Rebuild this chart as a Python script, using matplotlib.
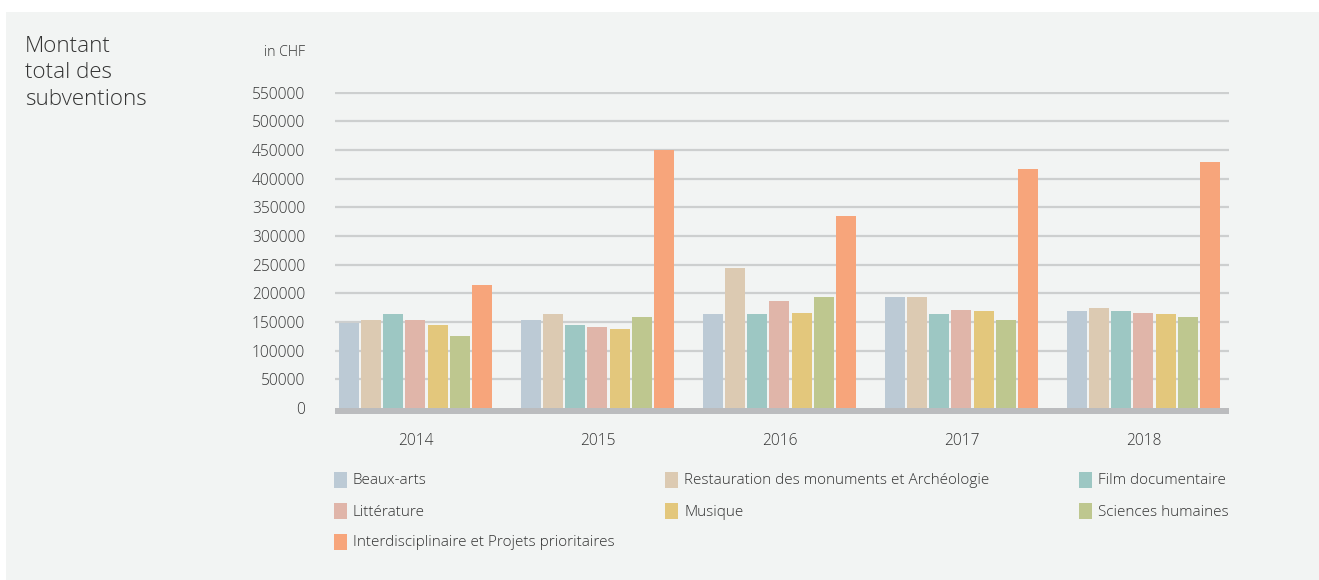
import numpy as np
import matplotlib
matplotlib.use("Agg")
import matplotlib.pyplot as plt
from matplotlib.patches import Rectangle

plt.rcParams['font.family'] = ['Open Sans', 'DejaVu Sans']
plt.rcParams['font.weight'] = 'light'

# Data (CHF)
years = ['2014', '2015', '2016', '2017', '2018']
categories = ['Beaux-arts', 'Restauration des monuments et Archéologie', 'Film documentaire',
              'Littérature', 'Musique', 'Sciences humaines',
              'Interdisciplinaire et Projets prioritaires']
beaux_arts = [149000, 153500, 164000, 193500, 169000]
restauration = [153500, 164000, 244000, 193500, 174500]
film = [164000, 144500, 164000, 164000, 169000]
litterature = [153500, 141500, 186500, 171000, 165500]
musique = [144500, 138000, 165500, 169000, 164000]
sciences = [125500, 158500, 193500, 153500, 158500]
interdisc = [214500, 450000, 335000, 417000, 429000]
series = [beaux_arts, restauration, film, litterature, musique, sciences, interdisc]
colors = ['#bccad5', '#dccab2', '#9dc7c3', '#e0b5a9', '#e3c77c', '#bec78f', '#f7a57b']
yticks = list(range(0, 550001, 50000))

W, H = 1319, 580
fig = plt.figure(figsize=(W / 100, H / 100), dpi=100, facecolor='white')
bg = '#f2f4f3'
txt = '#333333'
fig.patches.append(Rectangle((6 / W, 0), 1, 1 - 12 / H, transform=fig.transFigure,
                             facecolor=bg, edgecolor='none', zorder=-10))

ax = fig.add_axes([335 / W, (H - 414) / H, (1229 - 335) / W, (414 - 92) / H])
ax.set_facecolor(bg)
ax.patch.set_alpha(0)

x = np.arange(len(years))
pitch = 0.1215
width = 0.11
for i, (vals, c) in enumerate(zip(series, colors)):
    ax.bar(x + (i - 3) * pitch, vals, width=width, color=c, zorder=3)

ax.set_xlim(-0.442, 4.47)
ax.set_ylim(-10500, 551000)
ax.axhspan(-10500, 0, color='#bbbcbe', zorder=4, lw=0)
for t in yticks[1:]:
    ax.axhline(t, color='#cdcfcf', lw=1.6, zorder=1)

for s in ax.spines.values():
    s.set_visible(False)
ax.set_yticks(yticks)
ax.set_yticklabels([str(t) for t in yticks])
ax.set_xticks(x)
ax.set_xticklabels(years)
ax.tick_params(axis='y', length=0, pad=21.5, labelsize=11.2, labelcolor=txt)
ax.tick_params(axis='x', length=0, pad=14, labelsize=11.2, labelcolor=txt)

fig.text(305 / W, 1 - 53 / H, 'in CHF', ha='right', va='center', fontsize=10.2, color=txt)
fig.text(25 / W, 1 - 73 / H, 'Montant\ntotal des\nsubventions', ha='left', va='center',
         fontsize=16.1, color=txt, linespacing=1.32)

# legend, 3 columns
col_x = [334, 665, 1079]
row_y = [480, 511, 542]
for i, (name, c) in enumerate(zip(categories, colors)):
    cx = col_x[i % 3]
    cy = row_y[i // 3]
    fig.patches.append(Rectangle((cx / W, 1 - (cy + 8) / H), 13 / W, 16 / H,
                                 transform=fig.transFigure, facecolor=c, edgecolor='none'))
    fig.text((cx + 19) / W, 1 - (cy + 1) / H, name, ha='left', va='center', fontsize=11,
             color=txt)

fig.savefig('out.png', dpi=100, facecolor='white')
